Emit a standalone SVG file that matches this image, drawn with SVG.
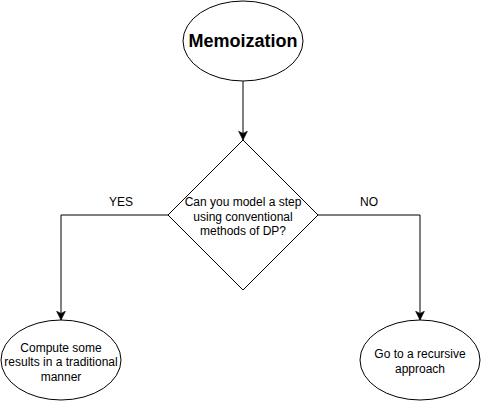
<svg xmlns="http://www.w3.org/2000/svg" width="481" height="401" viewBox="0 0 481 401">
<style>
.shape{fill:#fff;stroke:#000;stroke-width:1}
.edge{fill:none;stroke:#000;stroke-width:1}
text{font-family:"Liberation Sans",Arial,sans-serif;font-size:12px;fill:#000;text-anchor:middle}
.title{font-size:18px;font-weight:bold}
</style>
<defs>
<marker id="arr" markerUnits="userSpaceOnUse" markerWidth="10" markerHeight="10" viewBox="0 0 8 8" refX="7" refY="4" orient="auto">
<path d="M0,0.5 L7,4 L0,7.5 L1.75,4 Z" fill="#000" stroke="#000" stroke-width="0.5"/>
</marker>
</defs>
<rect width="481" height="401" fill="#fff"/>
<g id="connectors">
<path class="edge" d="M243,81 L243,140" marker-end="url(#arr)"/>
<path class="edge" d="M168,215 L61,215 L61,320" marker-end="url(#arr)"/>
<path class="edge" d="M318,215 L420,215 L420,320" marker-end="url(#arr)"/>
<text x="121" y="205.5">YES</text>
<text x="369" y="205.5">NO</text>
</g>
<g id="memoization">
<ellipse class="shape" cx="243" cy="41" rx="60" ry="40"/>
<text class="title" x="243" y="47">Memoization</text>
</g>
<g id="decision">
<path class="shape" d="M243,140 L318,215 L243,290 L168,215 Z"/>
<text x="243" y="206">Can you model a step</text>
<text x="243" y="220.5">using conventional</text>
<text x="243" y="235">methods of DP?</text>
</g>
<g id="compute">
<ellipse class="shape" cx="61" cy="360" rx="60" ry="40"/>
<text x="61" y="351.5">Compute some</text>
<text x="61" y="366">results in a traditional</text>
<text x="61" y="380.5">manner</text>
</g>
<g id="recursive">
<ellipse class="shape" cx="420" cy="360" rx="60" ry="40"/>
<text x="420" y="358">Go to a recursive</text>
<text x="420" y="372.5">approach</text>
</g>
</svg>
